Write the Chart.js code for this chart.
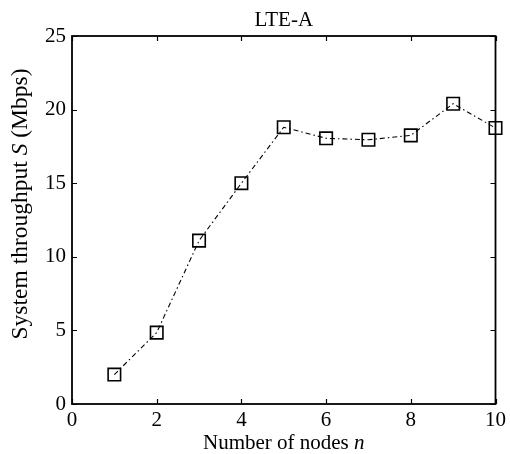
<!DOCTYPE html>
<html>
<head>
<meta charset="utf-8">
<script src="https://cdn.jsdelivr.net/npm/chart.js@4/dist/chart.umd.min.js"></script>
<style>
  html, body { margin: 0; padding: 0; background: #fff; }
  #wrap { width: 510px; height: 454px; }
</style>
</head>
<body>
<div id="wrap"><canvas id="c" width="510" height="454"></canvas></div>
<script>
// Number of nodes and measured system throughput (Mbps)
const nodes = [1, 2, 3, 4, 5, 6, 7, 8, 9, 10];
const throughput = [2.0, 4.85, 11.1, 15.0, 18.8, 18.05, 17.95, 18.25, 20.4, 18.75];
const xTicks = [0, 2, 4, 6, 8, 10];
const yTicks = [0, 5, 10, 15, 20, 25];

const FONT = '"Liberation Serif", "Times New Roman", serif';

// Frame with inward ticks on all four sides, plus title and axis titles
const framePlugin = {
  id: 'frame',
  afterDraw(chart) {
    const { ctx, chartArea: a, scales } = chart;
    const xs = scales.x, ys = scales.y;
    const tl = 5;
    ctx.save();
    ctx.strokeStyle = '#000';
    ctx.lineWidth = 1.8;
    ctx.strokeRect(a.left, a.top, a.right - a.left, a.bottom - a.top);
    ctx.lineWidth = 1.2;
    ctx.beginPath();
    xTicks.forEach(v => {
      const px = Math.round(xs.getPixelForValue(v)) + 0.5;
      ctx.moveTo(px, a.bottom); ctx.lineTo(px, a.bottom - tl);
      ctx.moveTo(px, a.top); ctx.lineTo(px, a.top + tl);
    });
    yTicks.forEach(v => {
      const py = Math.round(ys.getPixelForValue(v)) + 0.5;
      ctx.moveTo(a.left, py); ctx.lineTo(a.left + tl, py);
      ctx.moveTo(a.right, py); ctx.lineTo(a.right - tl, py);
    });
    ctx.stroke();

    const cx = (a.left + a.right) / 2;
    ctx.fillStyle = '#000';
    ctx.textBaseline = 'alphabetic';

    // title
    ctx.font = '21px ' + FONT;
    ctx.textAlign = 'center';
    ctx.fillText('LTE-A', cx, 26);

    // mixed roman / italic text, centred on (x, y)
    function mixed(parts, x, y, size) {
      let w = 0;
      parts.forEach(p => { ctx.font = p[1] + size + 'px ' + FONT; w += ctx.measureText(p[0]).width; });
      let sx = x - w / 2;
      ctx.textAlign = 'left';
      parts.forEach(p => {
        ctx.font = p[1] + size + 'px ' + FONT;
        ctx.fillText(p[0], sx, y);
        sx += ctx.measureText(p[0]).width;
      });
    }

    mixed([['Number of nodes ', ''], ['n', 'italic ']], cx, 449, 21);

    ctx.save();
    ctx.translate(27, 204);
    ctx.rotate(-Math.PI / 2);
    mixed([['System throughput ', ''], ['S', 'italic '], [' (Mbps)', '']], 0, 0, 23.5);
    ctx.restore();
    ctx.restore();
  }
};

new Chart(document.getElementById('c'), {
  type: 'line',
  data: {
    datasets: [{
      data: nodes.map((n, i) => ({ x: n, y: throughput[i] })),
      borderColor: '#000',
      borderWidth: 1.1,
      borderDash: [5, 3, 1.5, 3],
      backgroundColor: 'rgba(0,0,0,0)',
      pointStyle: 'rect',
      pointRadius: 8.8,
      pointBorderWidth: 1.6,
      pointBorderColor: '#000',
      pointBackgroundColor: 'rgba(0,0,0,0)',
      tension: 0,
      clip: false
    }]
  },
  options: {
    responsive: false,
    animation: false,
    events: [],
    layout: { padding: { top: 36, right: 14, left: 0, bottom: 0 } },
    plugins: { legend: { display: false }, tooltip: { enabled: false } },
    scales: {
      x: {
        type: 'linear', min: 0, max: 10,
        afterBuildTicks: s => { s.ticks = xTicks.map(v => ({ value: v })); },
        afterFit: s => { s.height = 50; },
        grid: { display: false, drawTicks: false },
        border: { display: false },
        ticks: { color: '#000', padding: 4, maxRotation: 0, font: { family: FONT, size: 21 } }
      },
      y: {
        type: 'linear', min: 0, max: 25,
        afterBuildTicks: s => { s.ticks = yTicks.map(v => ({ value: v })); },
        afterFit: s => { s.width = 72; },
        grid: { display: false, drawTicks: false },
        border: { display: false },
        ticks: { color: '#000', padding: 6, font: { family: FONT, size: 21 } }
      }
    }
  },
  plugins: [framePlugin]
});
</script>
</body>
</html>
